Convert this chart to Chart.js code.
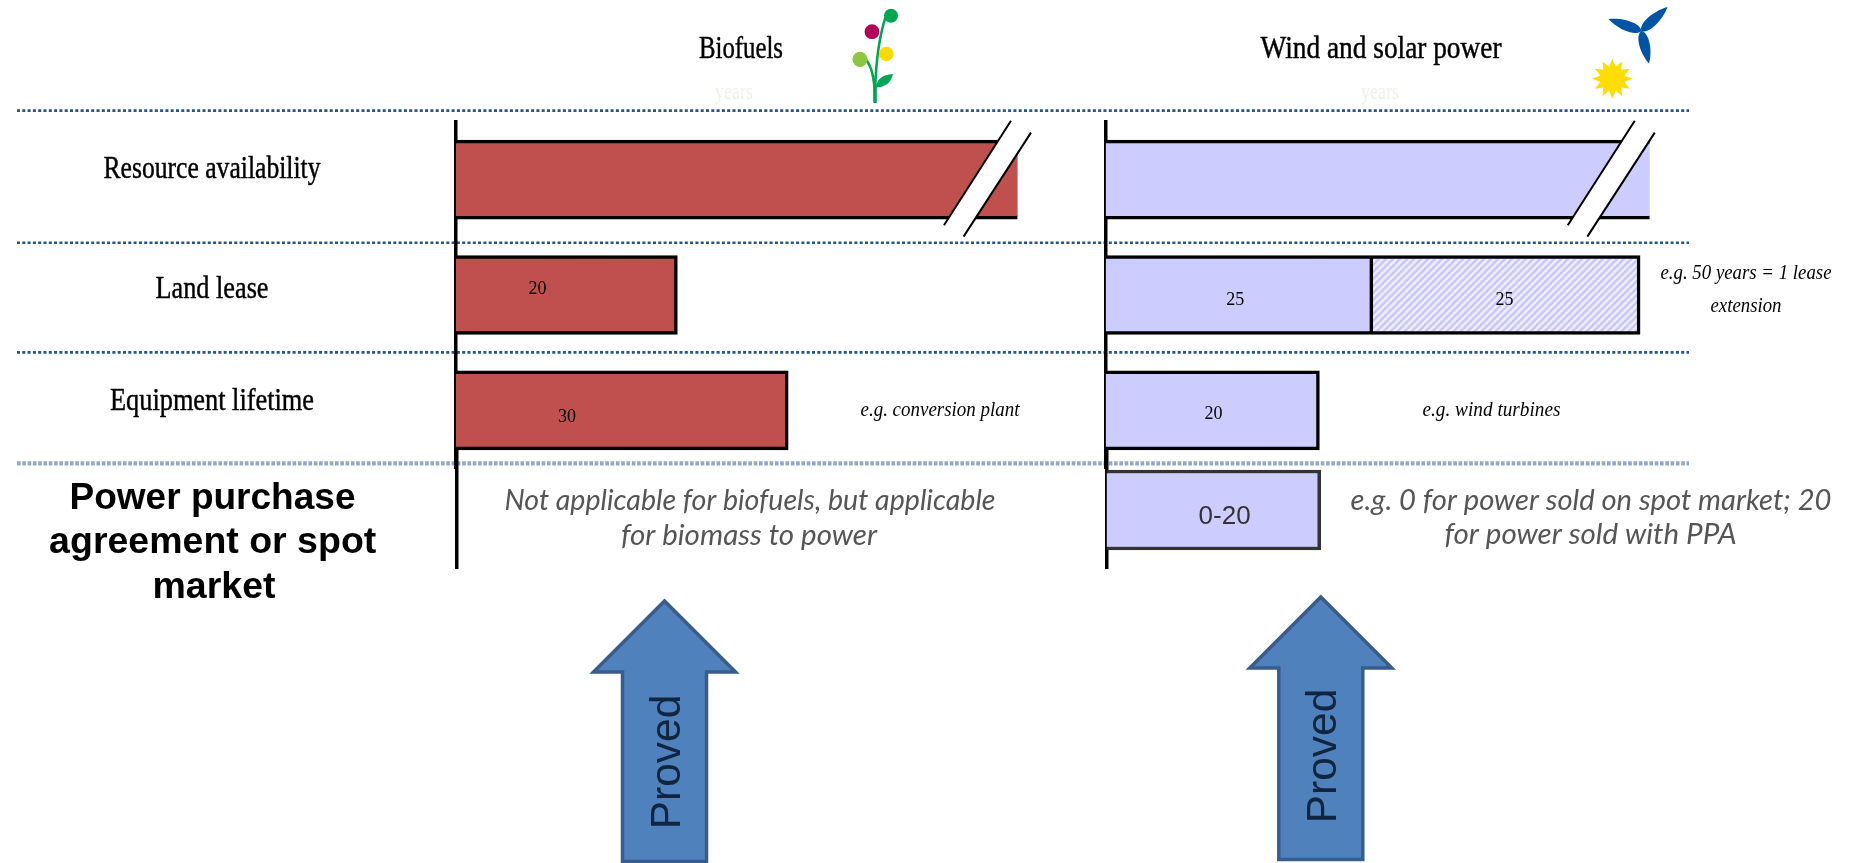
<!DOCTYPE html>
<html>
<head>
<meta charset="utf-8">
<title>Investment horizon by project term</title>
<script src="https://cdn.jsdelivr.net/npm/chart.js@4"></script>
<style>
  html, body { margin: 0; padding: 0; background: #fff; }
  body { width: 1854px; height: 863px; position: relative; overflow: hidden; }
  .layer { position: absolute; left: 0; top: 0; width: 1854px; height: 863px; }
</style>
</head>
<body>
<div class="layer"><canvas id="biofuelsRows"></canvas></div>
<div class="layer"><canvas id="biofuelsPpa"></canvas></div>
<div class="layer"><canvas id="windSolarRows"></canvas></div>
<div class="layer"><canvas id="windSolarPpa"></canvas></div>
<script>
// Row names and years per term
const categories = ['Resource availability', 'Land lease', 'Equipment lifetime'];
const ppaCategory = ['Power purchase agreement or spot market'];
const biofuelYears = [50.7, 20, 30];
const windSolarYears = [50.9, 25, 20];
const windSolarExtensionYears = [null, 25, null];
const ppaYears = [20];

// Text shown on the bars
const biofuelLabels = [null, '20', '30'];
const windSolarLabels = [null, '25', '20'];
const windSolarExtensionLabels = [null, '25', null];
const ppaLabels = ['0-20'];

// Value at which the open-ended resource bars are cut by the break mark
const biofuelBreakYears = 50.1;
const windSolarBreakYears = 49.5;

const RED = '#c0504d';
const LILAC = '#ccccff';
const SERIF = '"Liberation Serif", serif';
const SANS = '"Liberation Sans", sans-serif';
const HUMANIST = 'Lato, "Open Sans", sans-serif';

// Diagonal stripes for the lease extension segment
function stripePattern() {
  const n = 7;
  const tile = document.createElement('canvas');
  tile.width = tile.height = n;
  const c = tile.getContext('2d');
  c.fillStyle = '#eeeefe';
  c.fillRect(0, 0, n, n);
  c.strokeStyle = '#c8c8fa';
  c.lineWidth = 2.6;
  c.beginPath();
  c.moveTo(-n, n); c.lineTo(n, -n);
  c.moveTo(0, n); c.lineTo(n, 0);
  c.moveTo(0, 2 * n); c.lineTo(2 * n, 0);
  c.stroke();
  return c.createPattern(tile, 'repeat');
}

function textLine(ctx, str, x, y, font, color, width, heavy) {
  ctx.font = font;
  ctx.fillStyle = color;
  ctx.textAlign = 'center';
  ctx.textBaseline = 'middle';
  if (heavy) {
    ctx.strokeStyle = color;
    ctx.lineWidth = heavy;
    ctx.lineJoin = 'round';
    if (width) ctx.strokeText(str, x, y, width); else ctx.strokeText(str, x, y);
  }
  if (width) ctx.fillText(str, x, y, width); else ctx.fillText(str, x, y);
}

// Places a value label on each bar, nudged from the bar centre
const barLabelPlugin = {
  id: 'barLabels',
  afterDatasetsDraw(chart, _args, opts) {
    const ctx = chart.ctx;
    ctx.save();
    if (opts.blur) ctx.filter = 'blur(' + opts.blur + 'px)';
    chart.data.datasets.forEach((ds, i) => {
      const meta = chart.getDatasetMeta(i);
      (ds.barLabels || []).forEach((label, k) => {
        if (label === null) return;
        const bar = meta.data[k];
        const nudge = (ds.labelNudge || [])[k] || [0, 0];
        textLine(ctx, label, (bar.base + bar.x) / 2 + nudge[0], bar.y + nudge[1],
          opts.font, opts.color);
      });
    });
    ctx.restore();
  }
};

// Row names sit to the left of the axis, centred in the gutter
const rowNamePlugin = {
  id: 'rowNames',
  afterDraw(chart, _args, opts) {
    if (!opts.show) return;
    const ctx = chart.ctx;
    const y = chart.scales.y;
    ctx.save();
    chart.data.labels.forEach((name, k) => {
      textLine(ctx, name, opts.x, y.getPixelForValue(k) + opts.nudge[k], opts.font, '#000', opts.widths[k], 0.45);
    });
    ctx.restore();
  }
};

// Slanted white gap with two black strokes over the open-ended bar
const breakMarkPlugin = {
  id: 'breakMark',
  afterDatasetsDraw(chart, _args, opts) {
    if (opts.value === undefined) return;
    const ctx = chart.ctx;
    const x = chart.scales.x.getPixelForValue(opts.value);
    const cy = chart.scales.y.getPixelForValue(0);
    const a0 = [x, cy - 59], a1 = [x - 67, cy + 45.5];
    const b0 = [x + 20, cy - 47], b1 = [x - 47.4, cy + 57];
    ctx.save();
    ctx.fillStyle = '#fff';
    ctx.beginPath();
    ctx.moveTo(a0[0], a0[1]); ctx.lineTo(a1[0], a1[1]);
    ctx.lineTo(b1[0], b1[1]); ctx.lineTo(b0[0], b0[1]);
    ctx.closePath();
    ctx.fill();
    ctx.strokeStyle = '#000';
    ctx.lineWidth = 2;
    ctx.beginPath();
    ctx.moveTo(a0[0], a0[1]); ctx.lineTo(a1[0], a1[1]);
    ctx.moveTo(b0[0], b0[1]); ctx.lineTo(b1[0], b1[1]);
    ctx.stroke();
    ctx.restore();
  }
};

function dottedRule(ctx, y, color, width, dash) {
  ctx.save();
  ctx.strokeStyle = color;
  ctx.lineWidth = width;
  ctx.setLineDash(dash);
  ctx.beginPath();
  ctx.moveTo(17, y);
  ctx.lineTo(1689, y);
  ctx.stroke();
  ctx.restore();
}

function upArrow(ctx, cx, tipY, wingY, bottomY, halfHead, halfShaft) {
  ctx.save();
  ctx.beginPath();
  ctx.moveTo(cx, tipY);
  ctx.lineTo(cx + halfHead, wingY);
  ctx.lineTo(cx + halfShaft, wingY);
  ctx.lineTo(cx + halfShaft, bottomY);
  ctx.lineTo(cx - halfShaft, bottomY);
  ctx.lineTo(cx - halfShaft, wingY);
  ctx.lineTo(cx - halfHead, wingY);
  ctx.closePath();
  ctx.fillStyle = '#4f81bd';
  ctx.fill();
  ctx.strokeStyle = '#385d8a';
  ctx.lineWidth = 3.5;
  ctx.lineJoin = 'miter';
  ctx.stroke();
  ctx.restore();
}

function verticalText(ctx, str, x, y, font, color) {
  ctx.save();
  ctx.translate(x, y);
  ctx.rotate(-Math.PI / 2);
  textLine(ctx, str, 0, 0, font, color);
  ctx.restore();
}

function circle(ctx, x, y, r, color) {
  ctx.fillStyle = color;
  ctx.beginPath();
  ctx.arc(x, y, r, 0, Math.PI * 2);
  ctx.fill();
}

function flowerIcon(ctx) {
  ctx.save();
  const green = '#00a651';
  ctx.strokeStyle = green;
  ctx.lineCap = 'butt';
  ctx.lineWidth = 2.6;
  ctx.beginPath();
  ctx.moveTo(875, 102);
  ctx.bezierCurveTo(875, 70, 879, 40, 884, 22);
  ctx.quadraticCurveTo(886, 14, 892, 12);
  ctx.stroke();
  ctx.beginPath();
  ctx.moveTo(875, 102);
  ctx.bezierCurveTo(875, 82, 873, 62, 862, 57);
  ctx.stroke();
  ctx.lineWidth = 3.4;
  ctx.beginPath();
  ctx.moveTo(875, 103);
  ctx.lineTo(875, 84);
  ctx.stroke();
  ctx.fillStyle = green;
  ctx.beginPath();
  ctx.moveTo(876, 87.5);
  ctx.quadraticCurveTo(877, 75, 893, 74);
  ctx.quadraticCurveTo(890, 87, 876, 87.5);
  ctx.fill();
  circle(ctx, 891, 15.7, 7, green);
  circle(ctx, 872, 31.7, 7.4, '#b5005b');
  circle(ctx, 886.3, 54, 7.2, '#ffd800');
  circle(ctx, 860, 59.3, 7.6, '#8dc63f');
  ctx.restore();
}

function windIcon(ctx) {
  const hub = [1641.3, 31];
  const tips = [[1667.5, 7], [1608.5, 19], [1649, 63.5]];
  ctx.save();
  ctx.fillStyle = '#0054a6';
  tips.forEach(t => {
    const dx = t[0] - hub[0], dy = t[1] - hub[1];
    const len = Math.hypot(dx, dy);
    const ux = dx / len, uy = dy / len;
    const w = 7;
    const at = (along, side) => [hub[0] + ux * along - uy * side, hub[1] + uy * along + ux * side];
    const start = at(0, 0), tip = at(len, 0);
    const c1 = at(0.08 * len, w), c2 = at(0.62 * len, w);
    const c3 = at(0.62 * len, -w), c4 = at(0.08 * len, -w);
    ctx.beginPath();
    ctx.moveTo(start[0], start[1]);
    ctx.bezierCurveTo(c1[0], c1[1], c2[0], c2[1], tip[0], tip[1]);
    ctx.bezierCurveTo(c3[0], c3[1], c4[0], c4[1], start[0], start[1]);
    ctx.fill();
  });
  ctx.restore();
}

function sunIcon(ctx) {
  const cx = 1612.3, cy = 78.7, points = 12;
  ctx.save();
  ctx.fillStyle = '#ffdd00';
  ctx.beginPath();
  for (let i = 0; i < points * 2; i++) {
    const r = i % 2 === 0 ? 20 : 12.5;
    const a = -Math.PI / 2 + i * Math.PI / points;
    const px = cx + r * Math.cos(a), py = cy + r * Math.sin(a);
    if (i === 0) ctx.moveTo(px, py); else ctx.lineTo(px, py);
  }
  ctx.closePath();
  ctx.fill();
  ctx.restore();
}

// Everything around the charts: headers, rules, notes, arrows, icons
const sheetPlugin = {
  id: 'sheet',
  beforeDraw(chart) {
    const ctx = chart.ctx;
    dottedRule(ctx, 110.6, '#24558f', 2.6, [3, 2.3]);
    dottedRule(ctx, 242.7, '#24558f', 2.6, [3, 2.3]);
    dottedRule(ctx, 352.4, '#24558f', 2.6, [3, 2.3]);
    dottedRule(ctx, 463.4, '#92a8c6', 4.4, [3.6, 1.7]);
  },
  afterDraw(chart) {
    const ctx = chart.ctx;
    ctx.save();
    const head = '31px ' + SERIF;
    textLine(ctx, 'Biofuels', 741, 50, head, '#000', 84, 0.45);
    textLine(ctx, 'Wind and solar power', 1381, 50, head, '#000', 241, 0.45);
    textLine(ctx, 'years', 734, 93, '23px ' + SERIF, '#f3f1e6', 38);
    textLine(ctx, 'years', 1380, 93, '23px ' + SERIF, '#f3f1e6', 38);

    const note = 'italic 21px ' + SERIF;
    textLine(ctx, 'e.g. conversion plant', 940, 410, note, '#000', 159);
    textLine(ctx, 'e.g. wind turbines', 1491.5, 410, note, '#000', 138);
    textLine(ctx, 'e.g. 50 years = 1 lease', 1746, 273, note, '#000', 171);
    textLine(ctx, 'extension', 1746, 306, note, '#000', 71);

    flowerIcon(ctx);
    windIcon(ctx);
    sunIcon(ctx);

    upArrow(ctx, 664.5, 601, 672, 861.5, 71, 42);
    upArrow(ctx, 1320.8, 597, 668, 859.5, 71, 42);
    verticalText(ctx, 'Proved', 668, 762, '42.5px ' + SANS, '#10253f');
    verticalText(ctx, 'Proved', 1324, 756, '42.5px ' + SANS, '#10253f');

    // The lowest row is set in a softer, heavier sans
    ctx.filter = 'blur(0.6px)';
    const pb = 'bold 37.5px ' + SANS;
    textLine(ctx, 'Power purchase', 212.5, 498.5, pb, '#000', 286);
    textLine(ctx, 'agreement or spot', 212.7, 543, pb, '#000', 331);
    textLine(ctx, 'market', 214, 588, pb, '#000', 123);
    const pn = 'italic 29.5px ' + HUMANIST;
    textLine(ctx, 'Not applicable for biofuels, but applicable', 750, 500, pn, '#555', 491);
    textLine(ctx, 'for biomass to power', 749, 535, pn, '#555', 258);
    textLine(ctx, 'e.g. 0 for power sold on spot market; 20', 1591, 500, pn, '#555', 481);
    textLine(ctx, 'for power sold with PPA', 1590.5, 534, pn, '#555', 296);
    ctx.restore();
  }
};

// Shared chart setup: horizontal bars, no x axis, black y axis line only
function panelOptions(area, xMax, extra) {
  return {
    indexAxis: 'y',
    responsive: false,
    animation: false,
    events: [],
    layout: { padding: { left: area.left, top: area.top, right: 1854 - area.right, bottom: 863 - area.bottom } },
    scales: {
      x: { type: 'linear', min: 0, max: xMax, stacked: true, display: false },
      y: {
        type: 'category', stacked: true,
        grid: { display: false, drawTicks: false },
        border: { display: true, color: '#000', width: 3.5 },
        ticks: { display: false, padding: 0 },
        afterFit(scale) { scale.width = 0; }
      }
    },
    plugins: {
      legend: { display: false },
      tooltip: { enabled: false },
      barLabels: { font: extra.labelFont, color: extra.labelColor, blur: extra.blur },
      rowNames: extra.rowNames || { show: false },
      breakMark: { value: extra.breakValue }
    }
  };
}

function makeChart(id, labels, datasets, options, plugins) {
  const canvas = document.getElementById(id);
  canvas.width = 1854;
  canvas.height = 863;
  return new Chart(canvas, {
    type: 'bar',
    data: { labels, datasets },
    options,
    plugins: [barLabelPlugin, rowNamePlugin, breakMarkPlugin].concat(plugins || [])
  });
}

function barEdges(ctx) {
  // The open-ended bar has no closing edge on its right side
  return ctx.dataIndex === 0
    ? { top: 3.5, bottom: 3.5, left: 0, right: 0 }
    : { top: 3.5, bottom: 3.5, left: 0, right: 3.5 };
}

const barFont = '18px ' + SERIF;

makeChart('biofuelsRows', categories, [{
  data: biofuelYears,
  backgroundColor: RED,
  borderColor: '#000',
  borderWidth: barEdges,
  borderSkipped: false,
  barThickness: 79,
  barLabels: biofuelLabels,
  labelNudge: [null, [-29, -6], [-55, 7]]
}], panelOptions({ left: 455.7, top: 122, right: 1120.7, bottom: 468 }, 60, {
  labelFont: barFont, labelColor: '#000', breakValue: biofuelBreakYears,
  rowNames: { show: true, x: 212, font: '31px ' + SERIF, nudge: [-9.5, -5, -8], widths: [217, 113, 204] }
}), [sheetPlugin]);

makeChart('biofuelsPpa', ppaCategory, [{
  data: [null],
  backgroundColor: LILAC,
  barThickness: 80
}], panelOptions({ left: 457, top: 452, right: 1121, bottom: 568 }, 60, {
  labelFont: barFont, labelColor: '#000'
}));

makeChart('windSolarRows', categories, [{
  data: windSolarYears,
  backgroundColor: LILAC,
  borderColor: '#000',
  borderWidth: barEdges,
  borderSkipped: false,
  barThickness: 79,
  barLabels: windSolarLabels,
  labelNudge: [null, [-4, 5], [1, 4]]
}, {
  data: windSolarExtensionYears,
  backgroundColor: stripePattern(),
  borderColor: '#000',
  borderWidth: barEdges,
  borderSkipped: false,
  barThickness: 79,
  barLabels: windSolarExtensionLabels,
  labelNudge: [null, [-2, 5], null]
}], panelOptions({ left: 1105.6, top: 122, right: 1747, bottom: 468 }, 60, {
  labelFont: barFont, labelColor: '#000', breakValue: windSolarBreakYears
}));

makeChart('windSolarPpa', ppaCategory, [{
  data: ppaYears,
  backgroundColor: LILAC,
  borderColor: '#333',
  borderWidth: { top: 3.5, bottom: 3.5, left: 0, right: 3.5 },
  borderSkipped: false,
  barThickness: 80,
  barLabels: ppaLabels,
  labelNudge: [[11, 7]]
}], panelOptions({ left: 1106.5, top: 452, right: 1749, bottom: 568 }, 60, {
  labelFont: '26px ' + SANS, labelColor: '#333', blur: 0.5
}));
</script>
</body>
</html>
